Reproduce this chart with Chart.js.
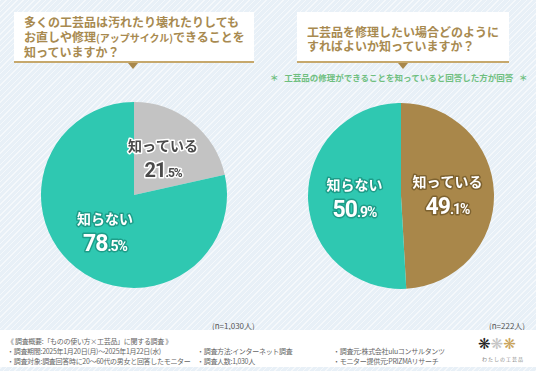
<!DOCTYPE html>
<html lang="ja">
<head>
<meta charset="utf-8">
<script src="https://cdn.jsdelivr.net/npm/chart.js@4.4.1/dist/chart.umd.min.js"></script>
<style>
  html, body { margin: 0; padding: 0; }
  body {
    width: 536px; height: 371px; position: relative; overflow: hidden;
    font-family: "Noto Sans CJK JP", "Noto Sans", sans-serif;
    background-color: #e8f0f7;
    background-image: repeating-linear-gradient(135deg, rgba(255,255,255,0.55) 0 1px, rgba(255,255,255,0) 1px 4px);
  }
  .abs { position: absolute; }
  .tbox { background: #fff; color: #a88a50; font-weight: 700; font-size: 12px; line-height: 14.5px; box-sizing: border-box; }
  .tbox small { font-size: 10px; }
  .uline { height: 2px; background: #c6a86c; }
  .tri { width: 0; height: 0; border-left: 5px solid transparent; border-right: 5px solid transparent; border-top: 6px solid #a8874a; }
  .sub { color: #6fbf7f; font-size: 8.5px; font-weight: 700; white-space: nowrap; }
  .nlab { color: #555; font-size: 8px; white-space: nowrap; }
  .foot { left: 0; top: 330px; width: 536px; height: 37px; background: #fff; }
  .ft { color: #666; font-size: 7px; line-height: 10px; white-space: nowrap; letter-spacing: -0.3px; }
  canvas { position: absolute; }
</style>
</head>
<body>
<div class="abs tbox" style="left:14px;top:12px;width:240px;height:50px;padding:3px 0 0 10px;">
  多くの工芸品は汚れたり壊れたりしても<br>お直しや修理<small>(アップサイクル)</small>できることを<br>知っていますか？
</div>
<div class="abs uline" style="left:14px;top:61px;width:240px;"></div>
<div class="abs tri" style="left:128px;top:63px;"></div>

<div class="abs tbox" style="left:297px;top:12px;width:212px;height:50px;padding:13px 0 0 10px;line-height:13.5px;">
  工芸品を修理したい場合どのように<br>すればよいか知っていますか？
</div>
<div class="abs uline" style="left:297px;top:61px;width:212px;"></div>
<div class="abs tri" style="left:398px;top:63px;"></div>
<div class="abs sub" style="left:270px;top:71px;">＊&nbsp;&nbsp;&nbsp;工芸品の修理ができることを知っていると回答した方が回答&nbsp;&nbsp;&nbsp;＊</div>

<canvas id="pie1" width="190" height="190" style="left:39px;top:100px;"></canvas>
<canvas id="pie2" width="190" height="190" style="left:306px;top:101px;"></canvas>

<div class="abs nlab" style="left:212px;top:320px;">(n=1,030人)</div>
<div class="abs nlab" style="left:489px;top:320px;">(n=222人)</div>

<div class="abs foot"></div>
<div class="abs ft" style="left:7px;top:336px;">《 調査概要:「ものの使い方×工芸品」に関する調査 》</div>
<div class="abs ft" style="left:7px;top:346px;">・調査期間:2025年1月20日(月)～2025年1月22日(水)</div>
<div class="abs ft" style="left:197px;top:346px;">・調査方法:インターネット調査</div>
<div class="abs ft" style="left:333px;top:346px;">・調査元:株式会社uluコンサルタンツ</div>
<div class="abs ft" style="left:7px;top:356px;">・調査対象:調査回答時に20～60代の男女と回答したモニター</div>
<div class="abs ft" style="left:197px;top:356px;">・調査人数:1,030人</div>
<div class="abs ft" style="left:333px;top:356px;">・モニター提供元:PRIZMAリサーチ</div>
<div class="abs" style="left:478px;top:335px;font-family:'DejaVu Sans';font-size:15px;line-height:18px;white-space:nowrap;">
  <span style="color:#222">❋</span><span style="color:#c4c4c4">❋</span><span style="color:#c9a45c">❋</span>
</div>
<div class="abs" style="left:482px;top:355px;font-size:5px;color:#888;letter-spacing:1px;white-space:nowrap;">わたしの工芸品</div>

<script>
// data
const categories = ["知っている", "知らない"];
const q1Values = [21.5, 78.5];
const q2Values = [49.1, 50.9];

// styles
const q1Colors = ["#c3c3c3", "#2fc8b1"];
const q2Colors = ["#a9874a", "#2fc8b1"];
const q1Text = [{ fill: "#4a4a4a", stroke: "#ffffff" }, { fill: "#ffffff", stroke: "#1e9d89" }];
const q2Text = [{ fill: "#ffffff", stroke: "#7d6230" }, { fill: "#ffffff", stroke: "#1e9d89" }];

const sliceLabels = {
  id: "sliceLabels",
  afterDatasetsDraw(chart, args, opts) {
    const ctx = chart.ctx;
    const meta = chart.getDatasetMeta(0);
    const values = chart.data.datasets[0].data;
    meta.data.forEach((arc, i) => {
      const p = arc.getProps(["x", "y", "startAngle", "endAngle", "outerRadius"], true);
      const mid = (p.startAngle + p.endAngle) / 2;
      const r = p.outerRadius * 0.5;
      const cx = p.x + Math.cos(mid) * r;
      const cy = p.y + Math.sin(mid) * r;
      const st = opts.text[i];
      const big = opts.big[i];

      ctx.save();
      ctx.lineJoin = "round";
      ctx.textBaseline = "middle";
      // name
      ctx.font = "bold 14px 'Noto Sans CJK JP'";
      ctx.textAlign = "center";
      ctx.lineWidth = 3;
      ctx.strokeStyle = st.stroke;
      ctx.fillStyle = st.fill;
      ctx.strokeText(chart.data.labels[i], cx, cy - 13);
      ctx.fillText(chart.data.labels[i], cx, cy - 13);

      // percent: big integer part + small decimal part
      const parts = values[i].toFixed(1).split(".");
      const intTxt = parts[0];
      const decTxt = "." + parts[1] + "%";
      ctx.textAlign = "left";
      ctx.textBaseline = "alphabetic";
      ctx.letterSpacing = "-1px";
      const bigFont = "bold " + big + "px Roboto";
      const smallFont = "bold " + Math.round(big * 0.62) + "px Roboto";
      ctx.font = bigFont;
      const w1 = ctx.measureText(intTxt).width;
      ctx.font = smallFont;
      const w2 = ctx.measureText(decTxt).width;
      const x0 = cx - (w1 + w2) / 2;
      const base = cy + 11 + big * 0.36;
      ctx.font = bigFont;
      ctx.strokeText(intTxt, x0, base);
      ctx.fillText(intTxt, x0, base);
      ctx.font = smallFont;
      ctx.strokeText(decTxt, x0 + w1, base);
      ctx.fillText(decTxt, x0 + w1, base);
      ctx.restore();
    });
  }
};

function makePie(id, values, colors, text, big) {
  return new Chart(document.getElementById(id), {
    type: "pie",
    data: {
      labels: categories,
      datasets: [{ data: values, backgroundColor: colors, borderWidth: 0 }]
    },
    options: {
      responsive: false,
      animation: false,
      layout: { padding: 2 },
      plugins: {
        legend: { display: false },
        tooltip: { enabled: false },
        sliceLabels: { text: text, big: big }
      }
    },
    plugins: [sliceLabels]
  });
}

makePie("pie1", q1Values, q1Colors, q1Text, [20, 23]);
makePie("pie2", q2Values, q2Colors, q2Text, [23, 23]);
</script>
</body>
</html>
